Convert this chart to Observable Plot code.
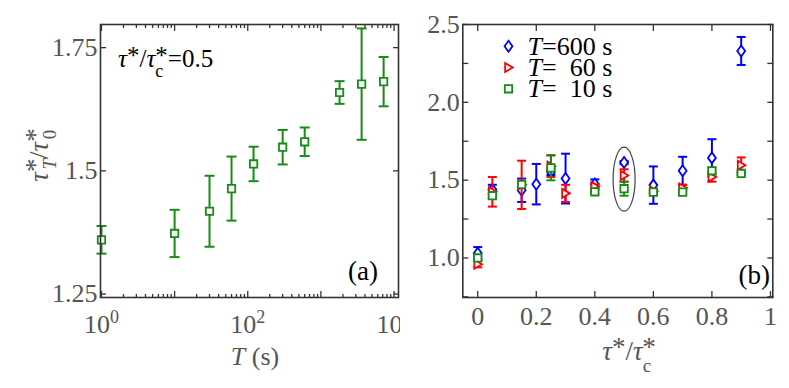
<!DOCTYPE html>
<html><head><meta charset="utf-8">
<script src="https://cdn.jsdelivr.net/npm/d3@7"></script>
<script src="https://cdn.jsdelivr.net/npm/@observablehq/plot@0.6"></script>
<style>
body{margin:0;background:#fff;}
#wrap{position:relative;width:789px;height:388px;overflow:hidden;background:#fff;}
#wrap svg{position:absolute;top:0;}
</style></head><body><div id="wrap"></div>
<script>
// ---------- Panel (a) data ----------
const periodA = [1, 10, 30, 60, 120, 300, 600, 1800, 3600, 7200];
const ratioA  = [1.360, 1.373, 1.418, 1.464, 1.514, 1.548, 1.559, 1.659, 1.676, 1.681];
const errA    = [0.028, 0.048, 0.072, 0.065, 0.035, 0.035, 0.029, 0.023, 0.113, 0.050];
const yTicksA = [1.25, 1.5, 1.75];
const yTickTextA = ["1.25", "1.5", "1.75"];
const xMajorA = [1, 10, 100, 1000, 10000];
const xLabelA = [1, 100, 10000];
const xLabelExpA = ["0", "2", "4"];
const xMinorA = [2,3,4,5,6,7,8,9, 20,30,40,50,60,70,80,90, 200,300,400,500,600,700,800,900, 2000,3000,4000,5000,6000,7000,8000,9000];

// ---------- Panel (b) data ----------
const series = ["T=600 s", "T=  60 s", "T=  10 s"];
const x600 = [0, 0.05, 0.15, 0.2, 0.25, 0.3, 0.4, 0.5, 0.6, 0.7, 0.8, 0.9];
const y600 = [1.03, 1.44, 1.435, 1.474, 1.553, 1.51, 1.475, 1.613, 1.468, 1.56, 1.643, 2.33];
const e600 = [0.04, 0.03, 0.075, 0.13, 0.02, 0.16, 0.03, 0.01, 0.12, 0.09, 0.12, 0.09];
const x60  = [0, 0.05, 0.15, 0.25, 0.3, 0.4, 0.5, 0.6, 0.7, 0.8, 0.9];
const y60  = [0.96, 1.425, 1.47, 1.59, 1.415, 1.46, 1.53, 1.43, 1.45, 1.52, 1.596];
const e60  = [0.02, 0.095, 0.155, 0.07, 0.055, 0.01, 0.04, 0.01, 0.02, 0.03, 0.05];
const x10  = [0, 0.05, 0.15, 0.25, 0.4, 0.5, 0.6, 0.7, 0.8, 0.9];
const y10  = [1.0, 1.40, 1.472, 1.579, 1.425, 1.445, 1.423, 1.423, 1.56, 1.543];
const e10  = [0.01, 0.01, 0.01, 0.08, 0.01, 0.045, 0.01, 0.015, 0.02, 0.01];
const yTicksB = [0.75, 1.0, 1.25, 1.5, 1.75, 2.0, 2.25, 2.5];
const yLabelB = [1.0, 1.5, 2.0, 2.5];
const yLabelTextB = ["1.0", "1.5", "2.0", "2.5"];
const xTicksB = [0, 0.2, 0.4, 0.6, 0.8, 1];
const xTickTextB = ["0", "0.2", "0.4", "0.6", "0.8", "1"];
const circledX = [0.5], circledY = [1.506];

// label lookup by tick value
const lookup = (ticks, texts) => d => texts[ticks.findIndex(t => Math.abs(t - d) < 1e-9 * Math.max(1, Math.abs(t)))] ?? "";

// ---------- symbols ----------
const rad = s => Math.sqrt(s / Math.PI);
const cap = {draw(c, s){const h = rad(s); c.moveTo(-h,0); c.lineTo(h,0);}};
const square = {draw(c, s){const h = rad(s); c.moveTo(-h,-h); c.lineTo(h,-h); c.lineTo(h,h); c.lineTo(-h,h); c.closePath();}};
const diamond = {draw(c, s){const h = rad(s), w = h*0.72; c.moveTo(0,-h); c.lineTo(w,0); c.lineTo(0,h); c.lineTo(-w,0); c.closePath();}};
const triRight = {draw(c, s){const h = rad(s); c.moveTo(-h*0.75,-h); c.lineTo(h*0.95,0); c.lineTo(-h*0.75,h); c.closePath();}};
const ellipse = {draw(c){const rx = 11, ry = 32, k = 0.5523;
  c.moveTo(rx,0); c.bezierCurveTo(rx,ry*k,rx*k,ry,0,ry); c.bezierCurveTo(-rx*k,ry,-rx,ry*k,-rx,0);
  c.bezierCurveTo(-rx,-ry*k,-rx*k,-ry,0,-ry); c.bezierCurveTo(rx*k,-ry,rx,-ry*k,rx,0); c.closePath();}};

const FONT = "Liberation Serif";
const GREY = "#555", FRAME = "#333";

function errMarks(d, color, symbol, r, capR) {
  return [
    Plot.ruleX(d, {x: "x", y1: v => v.y - v.e, y2: v => v.y + v.e, stroke: color, strokeWidth: 2}),
    Plot.dot(d, {x: "x", y: v => v.y - v.e, symbol: cap, r: capR, stroke: color, fill: "none", strokeWidth: 2}),
    Plot.dot(d, {x: "x", y: v => v.y + v.e, symbol: cap, r: capR, stroke: color, fill: "none", strokeWidth: 2}),
    Plot.dot(d, {x: "x", y: "y", symbol, r, stroke: color, fill: "white", strokeWidth: 1.8})
  ];
}

function rich(svg, {x, y, size, fill, anchor = "start", rotate = 0}, parts) {
  const t = d3.select(svg).append("text")
    .attr("transform", `translate(${x},${y}) rotate(${rotate})`)
    .attr("font-size", size).attr("fill", fill)
    .attr("text-anchor", anchor).style("white-space", "pre");
  let base = 0;
  for (const p of parts) {
    const s = t.append("tspan").text(p.t);
    const off = p.off || 0;
    s.attr("dy", off - base); base = off;
    if (p.i) s.attr("font-style", "italic");
    if (p.s) s.attr("font-size", p.s);
    if (p.dx) s.attr("dx", p.dx);
  }
}

// ---------- Panel (a) ----------
const dataA = periodA.map((x, i) => ({x, y: ratioA[i], e: errA[i]}));
const svgA = Plot.plot({
  width: 400, height: 388,
  marginLeft: 100, marginRight: 2, marginTop: 24, marginBottom: 91,
  x: {type: "log", domain: [0.97, 11500]},
  y: {domain: [1.243, 1.797]},
  style: {fontFamily: FONT, background: "white", overflow: "visible"},
  marks: [
    Plot.axisY({anchor: "left", ticks: yTicksA, tickSize: -6, tickFormat: () => "", stroke: FRAME, strokeWidth: 1.3, label: null}),
    Plot.axisY({anchor: "right", ticks: yTicksA, tickSize: -6, tickFormat: () => "", stroke: FRAME, strokeWidth: 1.3, label: null}),
    Plot.axisY({anchor: "left", ticks: yTicksA, tickSize: 0, tickPadding: 3, fill: GREY, fontSize: 26, label: null,
      tickFormat: lookup(yTicksA, yTickTextA)}),
    Plot.axisX({anchor: "bottom", ticks: xMajorA, tickSize: -6, tickFormat: () => "", stroke: FRAME, strokeWidth: 1.3, label: null}),
    Plot.axisX({anchor: "top", ticks: xMajorA, tickSize: -6, tickFormat: () => "", stroke: FRAME, strokeWidth: 1.3, label: null}),
    Plot.axisX({anchor: "bottom", ticks: xMinorA, tickSize: -3, tickFormat: () => "", stroke: FRAME, strokeWidth: 1.3, label: null}),
    Plot.axisX({anchor: "top", ticks: xMinorA, tickSize: -3, tickFormat: () => "", stroke: FRAME, strokeWidth: 1.3, label: null}),
    Plot.axisX({anchor: "bottom", ticks: xLabelA, tickSize: 0, tickPadding: 17, fill: GREY, fontSize: 26, label: null,
      tickFormat: d => "10^" + lookup(xLabelA, xLabelExpA)(d)}),
    ...errMarks(dataA, "#168c16", square, 3.7, 5),
    Plot.frame({stroke: FRAME, strokeWidth: 1.6})
  ]
});
svgA.style.left = "0px";

// ---------- Panel (b) ----------
const mk = (xs, ys, es) => xs.map((x, i) => ({x, y: ys[i], e: es[i]}));
const colors = ["#0000ff", "#ff0000", "#168c16"];
const symbols = [diamond, triRight, square];
const radii = [5.5, 4.5, 3.7];
const svgB = Plot.plot({
  width: 389, height: 388,
  marginLeft: 62.3, marginRight: 16.7, marginTop: 24, marginBottom: 91,
  x: {domain: [-0.051, 1.008]},
  y: {domain: [0.746, 2.5]},
  style: {fontFamily: FONT, background: "white", overflow: "visible"},
  marks: [
    Plot.axisY({anchor: "left", ticks: yTicksB, tickSize: -6, tickFormat: () => "", stroke: FRAME, strokeWidth: 1.3, label: null}),
    Plot.axisY({anchor: "right", ticks: yTicksB, tickSize: -6, tickFormat: () => "", stroke: FRAME, strokeWidth: 1.3, label: null}),
    Plot.axisY({anchor: "left", ticks: yLabelB, tickSize: 0, tickPadding: 3, fill: GREY, fontSize: 26, label: null,
      tickFormat: lookup(yLabelB, yLabelTextB)}),
    Plot.axisX({anchor: "bottom", ticks: xTicksB, tickSize: -6, tickFormat: () => "", stroke: FRAME, strokeWidth: 1.3, label: null}),
    Plot.axisX({anchor: "top", ticks: xTicksB, tickSize: -6, tickFormat: () => "", stroke: FRAME, strokeWidth: 1.3, label: null}),
    Plot.axisX({anchor: "bottom", ticks: xTicksB, tickSize: 0, tickPadding: 9, fill: GREY, fontSize: 26, label: null,
      tickFormat: lookup(xTicksB, xTickTextB)}),
    ...errMarks(mk(x600, y600, e600), colors[0], symbols[0], radii[0], 4.5),
    ...errMarks(mk(x60, y60, e60), colors[1], symbols[1], radii[1], 4.5),
    ...errMarks(mk(x10, y10, e10), colors[2], symbols[2], radii[2], 4.5),
    Plot.dot(circledX.map((x, i) => ({x, y: circledY[i]})), {x: "x", y: "y", symbol: ellipse, stroke: "#444", strokeWidth: 1.2, fill: "none"}),
    ...series.map((s, i) => Plot.dot([s], {frameAnchor: "top-left", dx: 45.7, dy: 21.7 + i * 21.3, symbol: symbols[i], r: radii[i], stroke: colors[i], fill: "white", strokeWidth: 1.8})),
    ...series.map((s, i) => Plot.text([s], {frameAnchor: "top-left", dx: 64.7, dy: 21.7 + i * 21.3, text: d => d, textAnchor: "start", lineAnchor: "middle", fontSize: 26, fill: "black"})),
    Plot.frame({stroke: FRAME, strokeWidth: 1.6})
  ]
});
svgB.style.left = "400px";

const wrap = document.getElementById("wrap");
wrap.appendChild(svgA);
wrap.appendChild(svgB);

// superscript exponents on log tick labels
svgA.querySelectorAll("text").forEach(t => {
  if (!t.textContent.includes("^")) return;
  const [b, e] = t.textContent.split("^");
  t.textContent = "";
  d3.select(t).append("tspan").text(b);
  d3.select(t).append("tspan").attr("dy", -10).attr("font-size", 18).text(e);
});
// italic T in legend labels
svgB.querySelectorAll("text").forEach(t => {
  const s = t.textContent;
  if (!series.includes(s)) return;
  t.textContent = "";
  t.style.whiteSpace = "pre";
  d3.select(t).append("tspan").attr("font-style", "italic").text(s[0]);
  d3.select(t).append("tspan").text(s.slice(1));
});

// ---------- labels ----------
rich(svgA, {x: 118, y: 67, size: 25, fill: "#000"},
  [{t: "τ", i: 1}, {t: "*", off: -3}, {t: "/"}, {t: "τ", i: 1}, {t: "c", s: 18, off: 10}, {t: "*", off: -3, dx: -8}, {t: "=0.5"}]);
rich(svgA, {x: 48, y: 155, size: 27, fill: GREY, anchor: "middle", rotate: -90},
  [{t: "τ", i: 1}, {t: "*", off: -4}, {t: "T", i: 1, s: 19, off: 8, dx: -11}, {t: "/"}, {t: "τ", i: 1}, {t: "*", off: -4}, {t: "0", s: 19, off: 8, dx: -11}]);
rich(svgA, {x: 255, y: 365, size: 26, fill: GREY, anchor: "middle"}, [{t: "T", i: 1}, {t: " (s)"}]);
rich(svgA, {x: 378, y: 280, size: 27, fill: "#000", anchor: "end"}, [{t: "(a)"}]);
rich(svgB, {x: 229, y: 360, size: 27, fill: GREY, anchor: "middle"},
  [{t: "τ", i: 1}, {t: "*", off: -4}, {t: "/"}, {t: "τ", i: 1}, {t: "c", s: 19, off: 12}, {t: "*", off: -4, dx: -9}]);
rich(svgB, {x: 370, y: 284, size: 27, fill: "#000", anchor: "end"}, [{t: "(b)"}]);

// make sure every text uses the serif face
for (const svg of [svgA, svgB]) {
  svg.setAttribute("font-family", FONT);
  svg.querySelectorAll("g, text, tspan").forEach(el => { el.style.fontFamily = "'Liberation Serif', serif"; });
}
</script></body></html>
